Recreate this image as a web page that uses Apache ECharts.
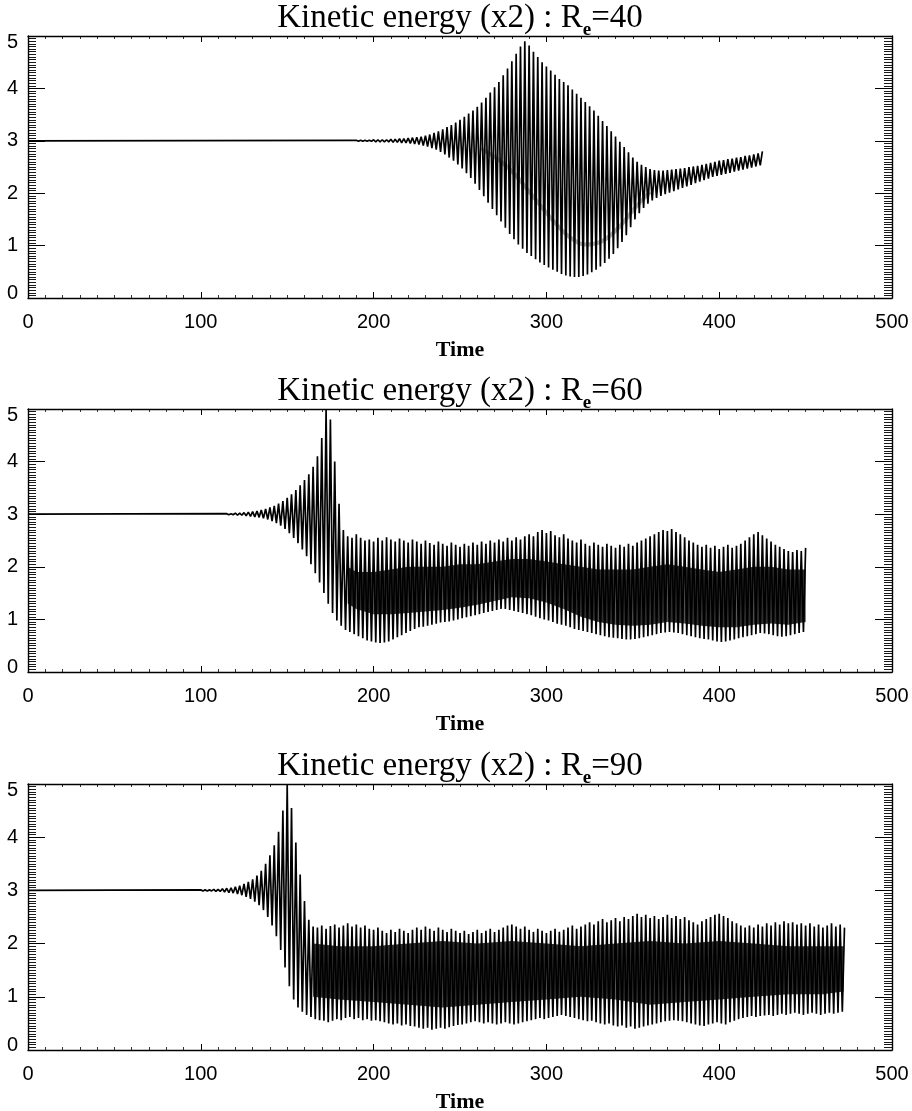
<!DOCTYPE html>
<html>
<head>
<meta charset="utf-8">
<script src="https://cdn.jsdelivr.net/npm/echarts@6/dist/echarts.min.js"></script>
<style>
  html, body { margin: 0; padding: 0; background: #fff; }
  #c { width: 912px; height: 1111px; }
</style>
</head>
<body>
<div id="c"></div>
<script>
// Kinetic energy (x2) histories for three Reynolds numbers.
// Each oscillating record is stored as successive maxima and minima,
// one pair per oscillation cycle, after a flat initial state.

const xTickValues = [0, 100, 200, 300, 400, 500];
const yTickValues = [0, 1, 2, 3, 4, 5];
const reynolds = ['40', '60', '90'];

// ---- Re = 40 ----
const flat40 = 3.0;
const start40 = 190;    // time of the first recorded maximum
const period40 = 2.5;   // oscillation period
const peaks40 = [
  3.01,3.01,3.01,3.01,3.02,3.02,3.02,3.02,3.03,3.03,
  3.04,3.04,3.05,3.06,3.07,3.08,3.10,3.12,3.15,3.18,
  3.22,3.26,3.30,3.35,3.40,3.46,3.52,3.58,3.65,3.73,
  3.82,3.92,4.02,4.12,4.25,4.38,4.52,4.66,4.80,4.90,
  4.82,4.70,4.60,4.50,4.42,4.34,4.26,4.18,4.12,4.06,
  3.98,3.90,3.82,3.74,3.66,3.58,3.48,3.38,3.28,3.18,
  3.08,2.98,2.88,2.78,2.68,2.60,2.54,2.50,2.46,2.44,
  2.43,2.43,2.44,2.45,2.46,2.47,2.48,2.50,2.51,2.52,
  2.54,2.56,2.58,2.60,2.62,2.63,2.65,2.66,2.68,2.69,
  2.71,2.72,2.74,2.76,2.80
];
const troughs40 = [
  2.99,2.99,2.99,2.99,2.98,2.98,2.98,2.98,2.97,2.97,
  2.96,2.96,2.95,2.94,2.93,2.91,2.89,2.86,2.83,2.79,
  2.74,2.68,2.62,2.55,2.47,2.38,2.29,2.18,2.06,1.94,
  1.82,1.70,1.58,1.46,1.34,1.22,1.12,1.02,0.94,0.86,
  0.80,0.74,0.68,0.63,0.58,0.54,0.50,0.46,0.43,0.41,
  0.40,0.40,0.42,0.45,0.49,0.54,0.60,0.67,0.75,0.84,
  0.95,1.07,1.20,1.35,1.50,1.62,1.72,1.80,1.86,1.91,
  1.95,1.98,2.01,2.04,2.07,2.10,2.13,2.16,2.19,2.22,
  2.25,2.28,2.31,2.33,2.35,2.37,2.39,2.41,2.43,2.45,
  2.47,2.49,2.51,2.53
];
// darker mid-level trace inside the large Re=40 burst
const innerTime40  = [262, 272, 282, 292, 302, 312, 322, 332, 342, 352, 360];
const innerValue40 = [2.85, 2.65, 2.35, 1.95, 1.55, 1.20, 1.02, 1.08, 1.35, 1.75, 2.02];

// ---- Re = 60 ----
const flat60 = 3.0;
const start60 = 115;
const period60 = 2.5;
const peaks60 = [
  3.01,3.01,3.02,3.02,3.03,3.04,3.05,3.06,3.08,3.10,
  3.13,3.16,3.20,3.25,3.31,3.38,3.46,3.55,3.65,3.76,
  3.90,4.10,4.45,4.98,4.80,4.00,3.20,2.70,2.58,2.55,
  2.62,2.55,2.50,2.52,2.48,2.55,2.50,2.56,2.52,2.48,
  2.54,2.50,2.46,2.52,2.48,2.44,2.50,2.45,2.42,2.48,
  2.44,2.40,2.46,2.42,2.38,2.44,2.40,2.46,2.42,2.48,
  2.44,2.50,2.46,2.52,2.48,2.55,2.50,2.56,2.52,2.58,
  2.62,2.58,2.66,2.70,2.64,2.68,2.60,2.56,2.62,2.54,
  2.50,2.46,2.52,2.44,2.40,2.46,2.42,2.38,2.44,2.40,
  2.36,2.42,2.38,2.44,2.40,2.46,2.50,2.54,2.58,2.62,
  2.66,2.70,2.68,2.72,2.66,2.62,2.56,2.50,2.46,2.42,
  2.38,2.42,2.36,2.40,2.34,2.38,2.42,2.36,2.40,2.44,
  2.50,2.56,2.62,2.66,2.60,2.54,2.48,2.42,2.38,2.34,
  2.30,2.28,2.32,2.30,2.36
];
const troughs60 = [
  2.99,2.99,2.98,2.98,2.97,2.96,2.95,2.94,2.92,2.90,
  2.87,2.83,2.78,2.72,2.64,2.55,2.45,2.33,2.20,2.05,
  1.88,1.70,1.50,1.30,1.12,0.98,0.88,0.80,0.76,0.72,
  0.68,0.64,0.60,0.58,0.56,0.55,0.56,0.58,0.62,0.66,
  0.70,0.74,0.78,0.82,0.85,0.86,0.88,0.90,0.92,0.94,
  0.95,0.96,0.98,1.00,1.02,1.04,1.06,1.08,1.10,1.12,
  1.14,1.16,1.18,1.20,1.20,1.18,1.16,1.14,1.12,1.10,
  1.08,1.05,1.02,1.00,0.98,0.95,0.92,0.90,0.88,0.85,
  0.82,0.80,0.78,0.76,0.74,0.72,0.70,0.68,0.66,0.65,
  0.64,0.63,0.62,0.62,0.63,0.64,0.66,0.68,0.70,0.72,
  0.74,0.75,0.76,0.75,0.74,0.72,0.70,0.68,0.66,0.64,
  0.63,0.62,0.60,0.58,0.57,0.58,0.60,0.62,0.64,0.66,
  0.68,0.70,0.72,0.74,0.73,0.72,0.70,0.68,0.67,0.68,
  0.70,0.72,0.74,0.76
];
// dense inner band of the saturated state
const coreTime60 = [185,190,200,210,220,230,240,250,260,270,280,290,300,310,320,330,340,350,360,370,380,390,400,410,420,430,440,450];
const coreHigh60 = [2.00,1.90,1.90,1.95,2.00,2.00,2.00,2.05,2.05,2.10,2.15,2.15,2.10,2.05,2.00,1.95,1.95,1.95,2.00,2.05,2.00,1.95,1.90,1.95,2.00,2.00,1.95,1.95];
const coreLow60  = [1.30,1.20,1.10,1.10,1.12,1.15,1.18,1.22,1.28,1.35,1.42,1.40,1.32,1.20,1.05,0.95,0.90,0.88,0.90,0.95,0.92,0.88,0.85,0.85,0.90,0.92,0.90,0.95];

// ---- Re = 90 ----
const flat90 = 3.0;
const start90 = 100;
const period90 = 2.5;
const peaks90 = [
  3.01,3.01,3.01,3.02,3.02,3.03,3.04,3.05,3.07,3.09,
  3.12,3.16,3.21,3.28,3.37,3.50,3.66,3.85,4.10,4.50,
  4.98,4.55,3.90,3.30,2.80,2.45,2.32,2.30,2.34,2.28,
  2.33,2.36,2.30,2.34,2.38,2.32,2.36,2.30,2.34,2.28,
  2.26,2.30,2.24,2.20,2.26,2.22,2.28,2.24,2.20,2.26,
  2.30,2.26,2.32,2.28,2.24,2.30,2.26,2.22,2.28,2.24,
  2.20,2.24,2.18,2.22,2.26,2.20,2.24,2.28,2.22,2.26,
  2.30,2.34,2.36,2.32,2.28,2.32,2.26,2.22,2.28,2.24,
  2.20,2.24,2.28,2.22,2.26,2.30,2.34,2.28,2.32,2.36,
  2.40,2.36,2.42,2.46,2.40,2.44,2.48,2.42,2.50,2.46,
  2.52,2.56,2.50,2.54,2.48,2.52,2.46,2.50,2.54,2.48,
  2.52,2.46,2.50,2.44,2.40,2.36,2.42,2.46,2.50,2.54,
  2.56,2.52,2.48,2.42,2.38,2.34,2.30,2.34,2.30,2.36,
  2.32,2.38,2.34,2.40,2.36,2.42,2.38,2.40,2.36,2.38,
  2.34,2.38,2.32,2.36,2.30,2.34,2.38,2.32,2.36,2.30
];
const troughs90 = [
  2.99,2.99,2.99,2.98,2.98,2.97,2.96,2.95,2.93,2.91,
  2.88,2.84,2.79,2.72,2.63,2.50,2.34,2.14,1.88,1.55,
  1.20,0.95,0.80,0.72,0.66,0.62,0.58,0.56,0.55,0.52,
  0.55,0.58,0.56,0.60,0.62,0.58,0.60,0.56,0.58,0.55,
  0.56,0.54,0.52,0.50,0.48,0.50,0.46,0.48,0.45,0.44,
  0.42,0.40,0.42,0.38,0.40,0.42,0.40,0.43,0.45,0.47,
  0.48,0.50,0.52,0.54,0.52,0.50,0.52,0.50,0.48,0.50,
  0.52,0.50,0.48,0.50,0.52,0.54,0.56,0.58,0.60,0.58,
  0.60,0.62,0.64,0.66,0.64,0.62,0.60,0.58,0.56,0.54,
  0.55,0.52,0.50,0.48,0.50,0.46,0.44,0.46,0.42,0.44,
  0.40,0.42,0.44,0.46,0.48,0.50,0.52,0.54,0.55,0.56,
  0.55,0.54,0.52,0.50,0.48,0.46,0.45,0.48,0.50,0.52,
  0.50,0.48,0.52,0.55,0.58,0.60,0.62,0.64,0.62,0.64,
  0.65,0.66,0.64,0.66,0.68,0.66,0.68,0.70,0.68,0.66,
  0.68,0.70,0.68,0.66,0.68,0.70,0.68,0.70,0.72
];
const coreTime90 = [165,180,200,220,240,260,280,300,320,340,360,380,400,420,440,460,472];
const coreHigh90 = [2.00,1.95,1.95,2.00,2.05,2.00,2.05,2.00,1.95,2.00,2.05,2.00,2.05,2.00,1.95,1.95,1.95];
const coreLow90  = [1.00,0.95,0.90,0.85,0.80,0.85,0.90,0.95,1.00,0.95,0.85,0.90,0.95,1.00,1.05,1.05,1.10];

// ---------------------------------------------------------------
const panels = [
  { re: reynolds[0], flat: flat40, start: start40, period: period40, peaks: peaks40, troughs: troughs40, core: null,
    inner: { t: innerTime40, v: innerValue40 } },
  { re: reynolds[1], flat: flat60, start: start60, period: period60, peaks: peaks60, troughs: troughs60,
    core: { t: coreTime60, hi: coreHigh60, lo: coreLow60 }, inner: null },
  { re: reynolds[2], flat: flat90, start: start90, period: period90, peaks: peaks90, troughs: troughs90,
    core: { t: coreTime90, hi: coreHigh90, lo: coreLow90 }, inner: null }
];

const gridTop = [36, 409, 784];
const gridHeight = [262, 263, 266];
const titleY = [20, 393, 768];

// record as (time, value) pairs: flat start, then alternating maxima / minima
function record(p) {
  const pts = [[0, p.flat]];
  for (let i = 0; i < p.peaks.length; i++) {
    pts.push([p.start + i * p.period, p.peaks[i]]);
    if (i < p.troughs.length) pts.push([p.start + (i + 0.5) * p.period, p.troughs[i]]);
  }
  return pts;
}

const labelFont = 'Liberation Sans, Arial, sans-serif';
const serifFont = 'Liberation Serif, Times New Roman, serif';
const black = '#000';

const yLabelRich = {
  top: { fontFamily: labelFont, fontSize: 20, color: black, padding: [13, 0, 0, 0] },
  mid: { fontFamily: labelFont, fontSize: 20, color: black },
  bot: { fontFamily: labelFont, fontSize: 20, color: black, padding: [0, 0, 10, 0] }
};
function yLabel(v) {
  if (v === yTickValues[yTickValues.length - 1]) return '{top|' + v + '}';
  if (v === yTickValues[0]) return '{bot|' + v + '}';
  return '{mid|' + v + '}';
}

const grids = [], xAxes = [], yAxes = [], series = [], graphics = [];

panels.forEach((p, k) => {
  grids.push({ left: 28, right: 20, top: gridTop[k], height: gridHeight[k], outerBoundsMode: 'none', containLabel: false });

  const xBase = {
    gridIndex: k, type: 'value', min: xTickValues[0], max: xTickValues[xTickValues.length - 1], interval: 100,
    axisLine: { show: true, onZero: false, lineStyle: { color: black, width: 1.4 } },
    axisTick: { show: true, inside: true, length: 6, lineStyle: { color: black, width: 1 } },
    minorTick: { show: true, splitNumber: 10, length: 3, lineStyle: { color: black, width: 0.8 } },
    splitLine: { show: false }, minorSplitLine: { show: false }
  };
  xAxes.push(Object.assign({}, xBase, {
    position: 'bottom',
    axisLabel: { show: true, margin: 14, color: black, fontFamily: labelFont, fontSize: 20, showMinLabel: true, showMaxLabel: true, hideOverlap: false },
    name: 'Time', nameLocation: 'middle', nameGap: 41,
    nameTextStyle: { color: black, fontFamily: serifFont, fontSize: 22, fontWeight: 'bold' }
  }));
  xAxes.push(Object.assign({}, xBase, { position: 'top', axisLabel: { show: false } }));

  const yBase = {
    gridIndex: k, type: 'value', min: yTickValues[0], max: yTickValues[yTickValues.length - 1], interval: 1,
    axisLine: { show: true, onZero: false, lineStyle: { color: black, width: 1.4 } },
    axisTick: { show: true, inside: true, length: 17, lineStyle: { color: black, width: 1 } },
    minorTick: { show: true, splitNumber: 20, length: 8, lineStyle: { color: black, width: 0.9 } },
    splitLine: { show: false }, minorSplitLine: { show: false }
  };
  yAxes.push(Object.assign({}, yBase, {
    position: 'left',
    axisLabel: { show: true, margin: 10, formatter: yLabel, rich: yLabelRich, showMinLabel: true, showMaxLabel: true, hideOverlap: false }
  }));
  yAxes.push(Object.assign({}, yBase, { position: 'right', axisLabel: { show: false } }));

  if (p.core) {
    const c = p.core;
    series.push({
      type: 'custom', xAxisIndex: 2 * k, yAxisIndex: 2 * k, clip: true, silent: true,
      data: c.t.map((t, i) => [t, c.lo[i], c.hi[i]]),
      encode: { x: 0, y: [1, 2] },
      renderItem: (params, api) => {
        const i = params.dataIndex;
        if (i >= c.t.length - 1) return null;
        const pts = [
          api.coord([c.t[i], c.lo[i]]), api.coord([c.t[i + 1], c.lo[i + 1]]),
          api.coord([c.t[i + 1], c.hi[i + 1]]), api.coord([c.t[i], c.hi[i]])
        ];
        return { type: 'polygon', shape: { points: pts }, style: { fill: '#000', opacity: 0.82, stroke: null } };
      },
      z: 2
    });
  }

  if (p.inner) {
    series.push({
      type: 'line', xAxisIndex: 2 * k, yAxisIndex: 2 * k, smooth: 0.3,
      data: p.inner.t.map((t, i) => [t, p.inner.v[i]]), showSymbol: false, symbol: 'none',
      lineStyle: { color: '#000', width: 4, opacity: 0.3 }, clip: true, z: 2, silent: true
    });
  }

  series.push({
    type: 'line', xAxisIndex: 2 * k, yAxisIndex: 2 * k,
    data: record(p), showSymbol: false, symbol: 'none', sampling: null,
    lineStyle: { color: black, width: 1.7 }, clip: true, z: 3, silent: true
  });

  graphics.push({
    type: 'text', x: 460, y: titleY[k], silent: true,
    style: {
      text: '{a|Kinetic energy (x2) : R}{s|e}{a|=' + p.re + '}',
      align: 'center', verticalAlign: 'middle',
      rich: {
        a: { fontFamily: serifFont, fontSize: 33, lineHeight: 36, verticalAlign: 'top', fill: black },
        s: { fontFamily: serifFont, fontSize: 19, fontWeight: 'bold', lineHeight: 19, padding: [19, 0, 0, 0], verticalAlign: 'top', fill: black }
      }
    }
  });
});

const chart = echarts.init(document.getElementById('c'), null, { renderer: 'canvas', width: 912, height: 1111 });
chart.setOption({
  animation: false,
  backgroundColor: '#fff',
  grid: grids,
  xAxis: xAxes,
  yAxis: yAxes,
  series: series,
  graphic: graphics
});
</script>
</body>
</html>
